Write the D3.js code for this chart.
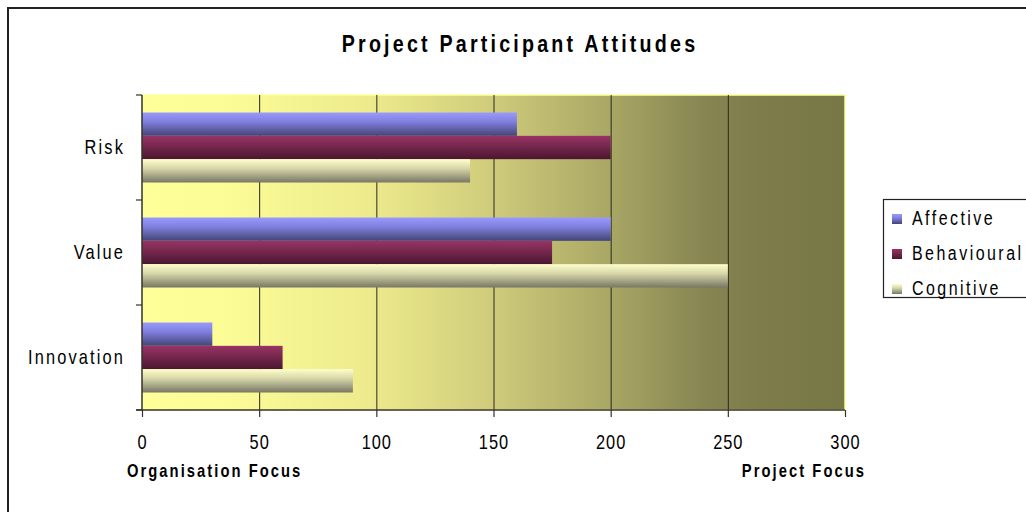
<!DOCTYPE html>
<html><head><meta charset="utf-8">
<script src="https://cdn.jsdelivr.net/npm/d3@7"></script>
<style>
html,body{margin:0;padding:0;background:#fff;}
svg text{font-family:"Liberation Sans",Arial,sans-serif;fill:#000;}
</style></head>
<body><svg id="c" width="1026" height="512"></svg>
<script>
const categories = ["Risk","Value","Innovation"];
const seriesNames = ["Affective","Behavioural","Cognitive"];
const affective = [160,200,30];
const behavioural = [200,175,60];
const cognitive = [140,250,90];
const xTicks = [0,50,100,150,200,250,300];
const titleText = "Project Participant Attitudes";
const leftLabel = "Organisation Focus";
const rightLabel = "Project Focus";

const NX = 0.82; // horizontal condensing of the narrow typeface
const seriesValues = [affective, behavioural, cognitive];
const svg = d3.select("#c");
const defs = svg.append("defs");

function narrowText(parent, px, py, txt, size, spacing, anchor, weight){
  const g = parent.append("g").attr("transform","translate("+px+","+py+") scale("+NX+",1)");
  return g.append("text").attr("x",0).attr("y",0).attr("font-size",size)
    .attr("letter-spacing",spacing+"px").attr("text-anchor",anchor||"start")
    .attr("font-weight",weight||"normal").text(txt);
}

// outer frame
svg.append("rect").attr("x",8).attr("y",8).attr("width",1040).attr("height",540)
  .attr("fill","none").attr("stroke","#222").attr("stroke-width",2);

const x = d3.scaleLinear().domain([0,300]).range([142,845]);
const y = d3.scaleBand().domain(categories).range([95,410]).padding(0);
const ys = d3.scaleBand().domain(seriesNames).range([0,y.bandwidth()]).paddingInner(0).paddingOuter(0.75);

// background gradient
const bg = defs.append("linearGradient").attr("id","bg").attr("x1","0").attr("x2","1").attr("y1","0").attr("y2","0");
[[0,"#ffff99"],[0.12,"#fcfc97"],[0.33,"#ecea8c"],[0.5,"#cfcb7b"],[0.66,"#aaa865"],[0.8,"#878552"],[0.88,"#7d7c4a"],[1,"#777746"]]
  .forEach(s=>bg.append("stop").attr("offset",s[0]).attr("stop-color",s[1]));

svg.append("rect").attr("x",x(0)).attr("y",95).attr("width",x(300)-x(0)).attr("height",315)
  .attr("fill","url(#bg)").attr("stroke","#ffff99").attr("stroke-width",1.5);

// gridlines
svg.append("g").selectAll("line").data(xTicks.filter(t=>t>0 && t<300)).join("line")
  .attr("x1",d=>x(d)+0.5).attr("x2",d=>x(d)+0.5).attr("y1",95).attr("y2",410)
  .attr("stroke","#2a2a22").attr("stroke-width",1);

// bar gradients
const barGrads = [
  ["#9a9aff","#7f7fdd","#444477"],
  ["#993366","#7a2950","#4a1630"],
  ["#ffffcc","#d6d6a8","#777766"]
];
barGrads.forEach((g,i)=>{
  const lg = defs.append("linearGradient").attr("id","bar"+i).attr("x1","0").attr("x2","0").attr("y1","0").attr("y2","1");
  lg.append("stop").attr("offset",0).attr("stop-color",g[0]);
  lg.append("stop").attr("offset",0.4).attr("stop-color",g[1]);
  lg.append("stop").attr("offset",1).attr("stop-color",g[2]);
});

// bars
const barData = [];
categories.forEach((c,ci)=>seriesNames.forEach((s,si)=>barData.push({c,s,si,v:seriesValues[si][ci]})));
svg.append("g").selectAll("rect").data(barData).join("rect")
  .attr("x",x(0)).attr("y",d=>y(d.c)+ys(d.s)).attr("height",ys.bandwidth())
  .attr("width",d=>x(d.v)-x(0)).attr("fill",d=>"url(#bar"+d.si+")");

// axes
const axisColor = "#333";
const xAxis = svg.append("g").attr("transform","translate(0,410)")
  .call(d3.axisBottom(x).tickValues(xTicks).tickSize(7).tickFormat(d3.format("d")));
xAxis.select(".domain").attr("stroke",axisColor).attr("stroke-width",1.5).attr("d","M"+(x(0)-6)+",0H"+x(300));
xAxis.selectAll(".tick line").attr("stroke",axisColor).attr("stroke-width",1.2);
xAxis.selectAll(".tick text").attr("font-size",20).attr("letter-spacing","1.2px")
  .attr("font-family",null).attr("fill","#000").attr("y",39).attr("dy",null)
  .attr("transform","scale("+NX+",1)");

const yAxis = svg.append("g").attr("transform","translate("+x(0)+",0)")
  .call(d3.axisLeft(y).tickSize(0).tickPadding(0));
yAxis.select(".domain").attr("stroke",axisColor).attr("stroke-width",1.5).attr("d","M0,95V410");
yAxis.selectAll(".tick text").attr("font-size",20).attr("letter-spacing","2.6px").attr("font-family",null)
  .attr("fill","#000").attr("x",-17/NX).attr("transform","scale("+NX+",1)");
// category boundary ticks
const bounds = [95].concat(categories.map(c=>y(c)+y.bandwidth()));
svg.append("g").selectAll("line").data(bounds).join("line")
  .attr("x1",x(0)-6).attr("x2",x(0)).attr("y1",d=>d).attr("y2",d=>d)
  .attr("stroke",axisColor).attr("stroke-width",1.2);

// title
narrowText(svg, 520, 52, titleText, 24, 3.9, "middle", "bold");

// axis end labels
narrowText(svg, 127, 477, leftLabel, 18, 2.5, "start", "bold");
narrowText(svg, 866, 477, rightLabel, 18, 2.5, "end", "bold");

// legend
svg.append("rect").attr("x",883.5).attr("y",199.5).attr("width",160).attr("height",98)
  .attr("fill","#fff").attr("stroke","#222").attr("stroke-width",1.2);
const lg = svg.append("g").selectAll("g").data(seriesNames).join("g")
  .attr("transform",(d,i)=>"translate(892,"+(214+i*35)+")");
lg.append("rect").attr("width",10).attr("height",10).attr("fill",(d,i)=>"url(#bar"+i+")");
lg.each(function(d){ narrowText(d3.select(this), 20, 11, d, 19.5, 3.0, "start", "normal"); });
</script></body></html>
